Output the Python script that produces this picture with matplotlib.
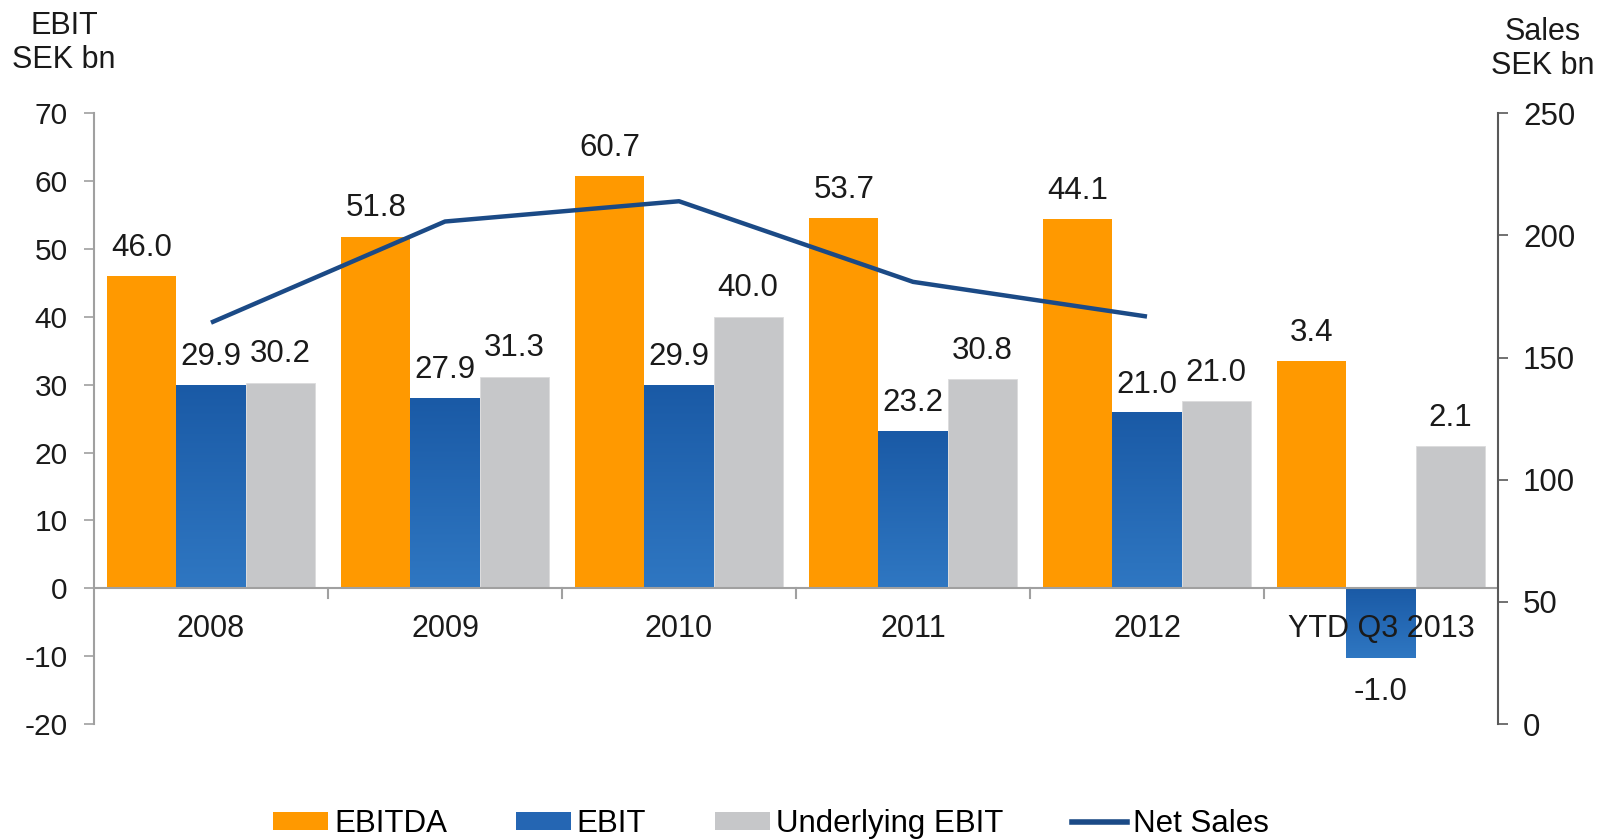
import matplotlib
matplotlib.use("Agg")
import matplotlib.pyplot as plt
import numpy as np
from matplotlib.patches import Patch
from matplotlib.lines import Line2D
from matplotlib.colors import LinearSegmentedColormap

plt.rcParams['font.family'] = ['Liberation Sans', 'DejaVu Sans']
plt.rcParams['axes.unicode_minus'] = False

categories = ["2008", "2009", "2010", "2011", "2012", "YTD Q3 2013"]
ebitda = [46.0, 51.8, 60.7, 54.5, 54.4, 33.5]
ebit = [29.9, 27.9, 29.9, 23.1, 25.8, -10.2]
underlying = [30.3, 31.2, 40.0, 30.8, 27.6, 20.9]
ebitda_labels = ["46.0", "51.8", "60.7", "53.7", "44.1", "3.4"]
ebit_labels = ["29.9", "27.9", "29.9", "23.2", "21.0", "-1.0"]
underlying_labels = ["30.2", "31.3", "40.0", "30.8", "21.0", "2.1"]
net_sales_cats = ["2008", "2009", "2010", "2011", "2012"]
net_sales = [164.3, 205.7, 214.0, 181.0, 166.8]
left_ticks = list(range(-20, 71, 10))
right_ticks = list(range(0, 251, 50))

ORANGE = "#FF9900"
GRAY = "#C6C7C9"
BLUE_TOP = "#1A5AA6"
BLUE_BOT = "#2F77C2"
LINE = "#1B4A86"
TXT = "#1a1a1a"

fig = plt.figure(figsize=(16.01, 8.39), dpi=100)
ax = fig.add_axes([94/1601, 1-724/839, (1498-94)/1601, (724-113.3)/839])
ax2 = ax.twinx()

x = np.arange(len(categories))
w = 0.2955

ax.bar(x - w, ebitda, w, color=ORANGE, zorder=2)
bars_ebit = ax.bar(x, ebit, w, color="none", linewidth=0, zorder=3)
ax.bar(x + w, underlying, w, color=GRAY, edgecolor="#dcdcdc", linewidth=0.6, zorder=2)

# gradient fill for EBIT bars (dark at top, lighter at bottom)
cmap = LinearSegmentedColormap.from_list("b", [BLUE_BOT, BLUE_TOP])
grad = np.linspace(0, 1, 256).reshape(-1, 1)
for b in bars_ebit:
    x0, y0 = b.get_x(), b.get_y()
    bw, bh = b.get_width(), b.get_height()
    lo, hi = min(y0, y0 + bh), max(y0, y0 + bh)
    ax.imshow(grad, cmap=cmap, aspect='auto', origin='lower',
              extent=[x0, x0 + bw, lo, hi], zorder=2.5, interpolation='bilinear')

ax.set_xlim(-0.5, len(categories) - 0.5)
ax.set_ylim(-20, 70)
ax2.set_ylim(0, 250)

LFS = 22.5
OFF = 20.5
# data labels
for xi, v, lab in zip(x - w, ebitda, ebitda_labels):
    ax.annotate(lab, (xi, v), xytext=(0, OFF), textcoords='offset points',
                ha='center', va='center', fontsize=LFS, color=TXT, zorder=5)
for xi, v, lab in zip(x, ebit, ebit_labels):
    off = OFF if v >= 0 else -25
    ax.annotate(lab, (xi, v), xytext=(0, off), textcoords='offset points',
                ha='center', va='center', fontsize=LFS, color=TXT, zorder=5)
for xi, v, lab in zip(x + w, underlying, underlying_labels):
    ax.annotate(lab, (xi, v), xytext=(0, OFF), textcoords='offset points',
                ha='center', va='center', fontsize=LFS, color=TXT, zorder=5)

# category labels
for xi, c in zip(x, categories):
    ax.annotate(c, (xi, 0), xytext=(0, -29), textcoords='offset points',
                ha='center', va='center', fontsize=22, color=TXT, zorder=6)

# zero line and category boundary ticks
ax.axhline(0, color="#A0A0A0", lw=1.5, zorder=4)
ax.set_xticks([])
for b in np.arange(0.5, len(categories) - 0.5, 1):
    ax.plot([b, b], [0, -1.4], color="#A0A0A0", lw=1.5, zorder=4, clip_on=False)

# net sales line
xs = [categories.index(c) for c in net_sales_cats]
ax2.plot(xs, net_sales, color=LINE, lw=3.2, zorder=6, solid_capstyle='butt')

# spines and ticks
for s in ["top", "bottom", "right"]:
    ax.spines[s].set_visible(False)
for s in ["top", "bottom", "left"]:
    ax2.spines[s].set_visible(False)
ax.spines["left"].set_color("#A0A0A0")
ax.spines["left"].set_linewidth(1.5)
ax2.spines["right"].set_color("#595959")
ax2.spines["right"].set_linewidth(1.5)

ax.set_yticks(left_ticks)
ax.tick_params(axis='y', direction='out', length=7, width=1.2, color="#A0A0A0",
               labelsize=21.5, pad=12, labelcolor=TXT)
ax2.set_yticks(right_ticks)
ax2.tick_params(axis='y', direction='out', length=7, width=1.2, color="#595959",
                labelsize=22.5, pad=11, labelcolor=TXT)

# axis titles
fig.text(64/1601, 1-43/839, "EBIT\nSEK bn", ha='center', va='center',
         fontsize=22, color=TXT, linespacing=1.2)
fig.text(1543/1601, 1-49/839, "Sales\nSEK bn", ha='center', va='center',
         fontsize=22, color=TXT, linespacing=1.2)

# legend
handles = [Patch(facecolor=ORANGE), Patch(facecolor="#2566B3"),
           Patch(facecolor=GRAY), Line2D([0], [0], color=LINE, lw=4)]
labels = ["EBITDA", "EBIT", "Underlying EBIT", "Net Sales"]
fig.legend(handles, labels, loc='center', bbox_to_anchor=(771/1601, 1-824/839),
           ncol=4, frameon=False, fontsize=22.5, handlelength=1.75, handleheight=0.5,
           handletextpad=0.2, columnspacing=2.2)

fig.savefig("out.png", dpi=100)
